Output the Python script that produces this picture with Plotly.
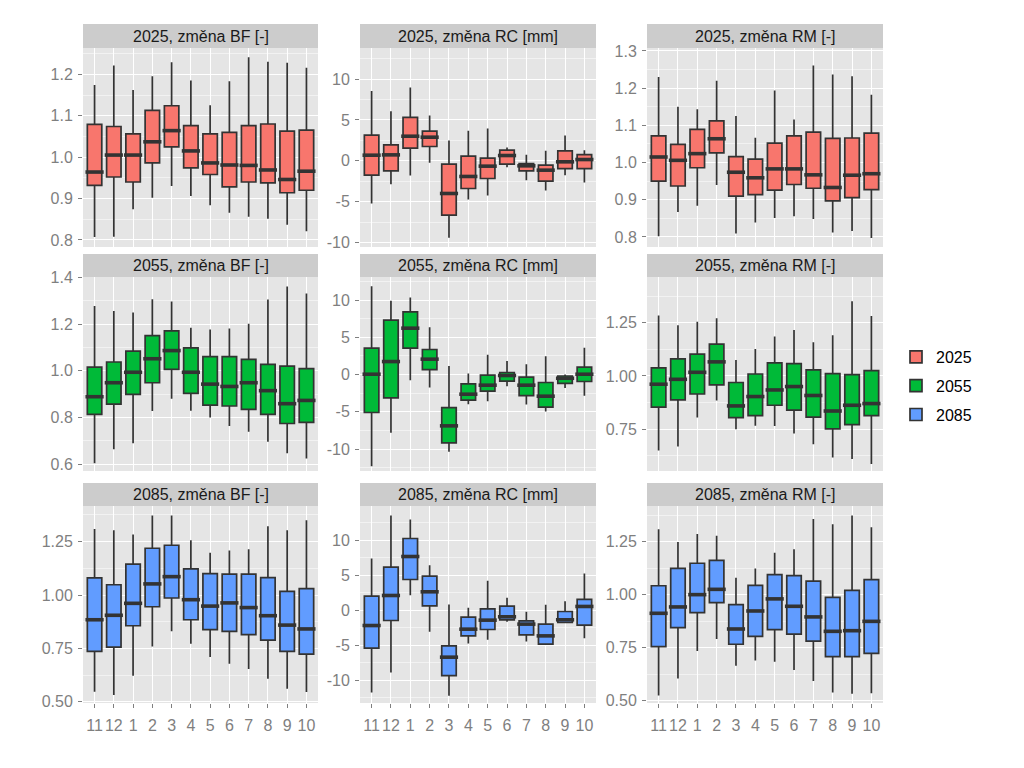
import plotly.graph_objects as go

months = ["11", "12", "1", "2", "3", "4", "5", "6", "7", "8", "9", "10"]
years = ["2025", "2055", "2085"]
variables = ["BF", "RC", "RM"]
strip_titles = {
    ("2025", "BF"): "2025, změna BF [-]", ("2025", "RC"): "2025, změna RC [mm]", ("2025", "RM"): "2025, změna RM [-]",
    ("2055", "BF"): "2055, změna BF [-]", ("2055", "RC"): "2055, změna RC [mm]", ("2055", "RM"): "2055, změna RM [-]",
    ("2085", "BF"): "2085, změna BF [-]", ("2085", "RC"): "2085, změna RC [mm]", ("2085", "RM"): "2085, změna RM [-]",
}
year_colors = {"2025": "#F8766D", "2055": "#00BA38", "2085": "#619CFF"}

# ---- 2025 ----
bf2025_lo = [0.807, 0.808, 0.874, 0.902, 0.930, 0.906, 0.884, 0.866, 0.856, 0.851, 0.837, 0.821]
bf2025_q1 = [0.932, 0.952, 0.940, 0.986, 1.025, 0.974, 0.958, 0.928, 0.940, 0.938, 0.914, 0.920]
bf2025_med = [0.964, 1.005, 1.005, 1.037, 1.064, 1.015, 0.986, 0.981, 0.980, 0.969, 0.946, 0.966]
bf2025_q3 = [1.079, 1.074, 1.056, 1.113, 1.124, 1.076, 1.056, 1.060, 1.076, 1.080, 1.063, 1.065]
bf2025_hi = [1.174, 1.221, 1.162, 1.195, 1.229, 1.185, 1.125, 1.183, 1.241, 1.230, 1.228, 1.216]

rc2025_lo = [-5.21, -2.85, -1.79, -0.24, -9.41, -4.73, -4.24, -0.77, -2.36, -3.63, -1.75, -2.65]
rc2025_q1 = [-1.75, -1.22, 1.55, 1.75, -6.64, -3.38, -2.16, -0.41, -1.22, -2.48, -0.94, -0.94]
rc2025_med = [0.69, 0.73, 3.01, 2.89, -3.99, -1.91, -0.65, 0.65, -0.61, -1.14, -0.12, 0.16]
rc2025_q3 = [3.14, 1.96, 5.30, 3.63, -0.41, 0.57, 0.33, 1.30, -0.33, -0.53, 1.22, 0.77]
rc2025_hi = [8.55, 6.07, 8.96, 5.54, 2.48, 3.67, 3.95, 1.63, 0.73, 1.22, 3.10, 1.30]

rm2025_lo = [0.802, 0.867, 0.884, 0.940, 0.809, 0.839, 0.851, 0.856, 0.848, 0.812, 0.816, 0.797]
rm2025_q1 = [0.950, 0.937, 0.986, 1.026, 0.910, 0.914, 0.926, 0.941, 0.931, 0.897, 0.906, 0.927]
rm2025_med = [1.015, 1.006, 1.024, 1.064, 0.974, 0.959, 0.983, 0.983, 0.967, 0.933, 0.966, 0.970]
rm2025_q3 = [1.072, 1.049, 1.089, 1.112, 1.016, 1.009, 1.052, 1.072, 1.082, 1.065, 1.066, 1.079]
rm2025_hi = [1.230, 1.150, 1.143, 1.220, 1.125, 1.067, 1.194, 1.116, 1.261, 1.237, 1.232, 1.182]

# ---- 2055 ----
bf2055_lo = [0.603, 0.663, 0.689, 0.828, 0.880, 0.829, 0.800, 0.763, 0.739, 0.696, 0.646, 0.624]
bf2055_q1 = [0.813, 0.857, 0.899, 0.949, 1.006, 0.903, 0.853, 0.849, 0.835, 0.813, 0.774, 0.779]
bf2055_med = [0.889, 0.949, 0.994, 1.052, 1.087, 0.994, 0.943, 0.933, 0.949, 0.915, 0.859, 0.873]
bf2055_q3 = [1.016, 1.038, 1.085, 1.151, 1.172, 1.099, 1.061, 1.061, 1.049, 1.028, 1.020, 1.010]
bf2055_hi = [1.278, 1.257, 1.251, 1.307, 1.298, 1.185, 1.178, 1.182, 1.202, 1.306, 1.362, 1.332]

rc2055_lo = [-12.30, -7.83, -0.76, -1.74, -10.38, -3.98, -3.60, -1.57, -4.03, -4.97, -1.80, -2.86]
rc2055_q1 = [-5.10, -3.13, 3.53, 0.67, -9.17, -3.44, -2.24, -0.89, -2.82, -4.38, -1.20, -0.94]
rc2055_med = [0.04, 1.74, 6.22, 2.06, -6.89, -2.64, -1.43, -0.13, -1.43, -2.91, -0.50, 0.04]
rc2055_q3 = [3.53, 7.29, 8.41, 3.36, -4.43, -1.25, -0.09, 0.27, -0.36, -1.07, -0.20, 0.98]
rc2055_hi = [11.86, 9.89, 10.34, 6.35, 1.16, 0.13, 2.64, 1.83, 1.39, 2.46, 0.00, 3.58]

rm2055_lo = [0.649, 0.668, 0.804, 0.884, 0.749, 0.766, 0.765, 0.729, 0.679, 0.616, 0.610, 0.586]
rm2055_q1 = [0.853, 0.887, 0.915, 0.958, 0.804, 0.813, 0.862, 0.839, 0.806, 0.751, 0.771, 0.813]
rm2055_med = [0.961, 0.984, 1.017, 1.066, 0.859, 0.903, 0.934, 0.950, 0.908, 0.835, 0.862, 0.870]
rm2055_q3 = [1.038, 1.080, 1.102, 1.149, 0.969, 1.009, 1.061, 1.058, 1.028, 1.011, 1.006, 1.025]
rm2055_hi = [1.284, 1.238, 1.255, 1.271, 1.075, 1.127, 1.185, 1.216, 1.158, 1.191, 1.351, 1.282]

# ---- 2085 ----
bf2085_lo = [0.547, 0.531, 0.622, 0.759, 0.830, 0.772, 0.709, 0.678, 0.653, 0.608, 0.561, 0.545]
bf2085_q1 = [0.736, 0.756, 0.856, 0.945, 0.986, 0.884, 0.838, 0.830, 0.814, 0.789, 0.736, 0.723]
bf2085_med = [0.884, 0.905, 0.961, 1.052, 1.086, 0.978, 0.948, 0.963, 0.941, 0.903, 0.859, 0.841]
bf2085_q3 = [1.080, 1.048, 1.145, 1.219, 1.233, 1.122, 1.100, 1.098, 1.098, 1.081, 1.017, 1.030]
bf2085_hi = [1.309, 1.303, 1.283, 1.373, 1.373, 1.256, 1.198, 1.208, 1.214, 1.322, 1.303, 1.350]

rc2085_lo = [-11.79, -8.93, 2.15, -3.10, -12.27, -4.77, -4.25, -1.67, -4.49, -4.96, -1.86, -4.01]
rc2085_q1 = [-5.44, -1.48, 4.39, 0.62, -9.36, -3.68, -2.77, -1.38, -3.53, -4.87, -1.77, -2.15]
rc2085_med = [-2.20, 2.10, 7.68, 2.63, -6.73, -2.72, -1.43, -0.95, -2.00, -3.68, -1.38, 0.53]
rc2085_q3 = [2.00, 6.16, 10.26, 4.87, -5.11, -1.00, 0.19, 0.57, -1.53, -2.00, -0.19, 1.53]
rc2085_hi = [7.40, 13.56, 12.98, 6.44, 0.81, 0.33, 4.20, 1.77, -0.24, 0.76, 1.29, 5.25]

rm2085_lo = [0.524, 0.605, 0.734, 0.791, 0.665, 0.690, 0.684, 0.645, 0.593, 0.539, 0.533, 0.535]
rm2085_q1 = [0.755, 0.844, 0.915, 0.962, 0.766, 0.803, 0.835, 0.814, 0.781, 0.708, 0.708, 0.723]
rm2085_med = [0.912, 0.942, 1.000, 1.025, 0.838, 0.923, 0.980, 0.945, 0.895, 0.827, 0.830, 0.874]
rm2085_q3 = [1.042, 1.124, 1.148, 1.162, 0.953, 1.044, 1.094, 1.090, 1.064, 0.987, 1.020, 1.071]
rm2085_hi = [1.308, 1.248, 1.286, 1.278, 1.080, 1.123, 1.198, 1.214, 1.357, 1.332, 1.373, 1.318]

# y-axis ticks per panel
ticks_bf2025 = [0.8, 0.9, 1.0, 1.1, 1.2]
ticks_rc = [-10, -5, 0, 5, 10]
ticks_rm2025 = [0.8, 0.9, 1.0, 1.1, 1.2, 1.3]
ticks_bf2055 = [0.6, 0.8, 1.0, 1.2, 1.4]
ticks_rm2055 = [0.75, 1.00, 1.25]
ticks_2085 = [0.50, 0.75, 1.00, 1.25]

panel_stats = {
    ("2025", "BF"): (bf2025_lo, bf2025_q1, bf2025_med, bf2025_q3, bf2025_hi),
    ("2025", "RC"): (rc2025_lo, rc2025_q1, rc2025_med, rc2025_q3, rc2025_hi),
    ("2025", "RM"): (rm2025_lo, rm2025_q1, rm2025_med, rm2025_q3, rm2025_hi),
    ("2055", "BF"): (bf2055_lo, bf2055_q1, bf2055_med, bf2055_q3, bf2055_hi),
    ("2055", "RC"): (rc2055_lo, rc2055_q1, rc2055_med, rc2055_q3, rc2055_hi),
    ("2055", "RM"): (rm2055_lo, rm2055_q1, rm2055_med, rm2055_q3, rm2055_hi),
    ("2085", "BF"): (bf2085_lo, bf2085_q1, bf2085_med, bf2085_q3, bf2085_hi),
    ("2085", "RC"): (rc2085_lo, rc2085_q1, rc2085_med, rc2085_q3, rc2085_hi),
    ("2085", "RM"): (rm2085_lo, rm2085_q1, rm2085_med, rm2085_q3, rm2085_hi),
}
panel_ticks = {
    ("2025", "BF"): (ticks_bf2025, ["0.8", "0.9", "1.0", "1.1", "1.2"], [0.783, 1.2635]),
    ("2025", "RC"): (ticks_rc, ["-10", "-5", "0", "5", "10"], [-10.53, 13.79]),
    ("2025", "RM"): (ticks_rm2025, ["0.8", "0.9", "1.0", "1.1", "1.2", "1.3"], [0.773, 1.308]),
    ("2055", "BF"): (ticks_bf2055, ["0.6", "0.8", "1.0", "1.2", "1.4"], [0.570, 1.403]),
    ("2055", "RC"): (ticks_rc, ["-10", "-5", "0", "5", "10"], [-12.95, 13.09]),
    ("2055", "RM"): (ticks_rm2055, ["0.75", "1.00", "1.25"], [0.553, 1.465]),
    ("2085", "BF"): (ticks_2085, ["0.50", "0.75", "1.00", "1.25"], [0.494, 1.417]),
    ("2085", "RC"): (ticks_rc, ["-10", "-5", "0", "5", "10"], [-13.29, 14.91]),
    ("2085", "RM"): (ticks_2085, ["0.50", "0.75", "1.00", "1.25"], [0.489, 1.418]),
}

# page pixel positions (window coords); the html body adds an 8px margin
OFF = 8
W, H = 1024 - 2 * OFF, 768 - 2 * OFF
col_px = [(83, 318), (360, 596), (647, 883)]
row_plot_px = [(48, 247), (277, 471), (506, 703)]
row_strip_px = [(24, 48), (254, 277), (483, 506)]


def px_x(v):
    return (v - OFF) / W


def px_y(v):
    return 1 - (v - OFF) / H


PANEL_BG = "#E5E5E5"
STRIP_BG = "#CCCCCC"
AXIS_GREY = "#7F7F7F"
BOX_LINE = "#333333"

fig = go.Figure()
layout = dict(
    width=W, height=H, autosize=False,
    margin=dict(l=0, r=0, t=0, b=0, autoexpand=False),
    paper_bgcolor="white", plot_bgcolor=PANEL_BG,
    font=dict(family="Liberation Sans, Arial, sans-serif", size=16, color="black"),
    boxmode="overlay",
    showlegend=True,
    legend=dict(x=px_x(896), y=px_y(386), xanchor="left", yanchor="middle",
                font=dict(size=16, color="black"), bgcolor="rgba(0,0,0,0)",
                tracegroupgap=5, itemwidth=30),
)
shapes = []
annotations = []

idx = 0
for r, year in enumerate(years):
    for c, var in enumerate(variables):
        idx += 1
        key = (year, var)
        lo, q1, med, q3, hi = panel_stats[key]
        xa = "x" if idx == 1 else f"x{idx}"
        ya = "y" if idx == 1 else f"y{idx}"
        fig.add_trace(go.Box(
            x=months, q1=q1, median=med, q3=q3, lowerfence=lo, upperfence=hi,
            fillcolor=year_colors[year], line=dict(color=BOX_LINE, width=1.7),
            whiskerwidth=0, width=0.75, boxpoints=False,
            name=year, legendgroup=year, showlegend=(c == 0),
            xaxis=xa, yaxis=ya, hoverinfo="skip",
        ))
        fig.add_trace(go.Scatter(
            x=months, y=med, mode="markers",
            marker=dict(symbol="line-ew", size=13, line=dict(width=3.6, color=BOX_LINE)),
            showlegend=False, legendgroup=year, xaxis=xa, yaxis=ya, hoverinfo="skip",
        ))
        x0, x1 = col_px[c]
        py0, py1 = row_plot_px[r]
        sy0, sy1 = row_strip_px[r]
        tv, tt, rng = panel_ticks[key]
        step = tv[1] - tv[0]
        xname = "xaxis" if idx == 1 else f"xaxis{idx}"
        yname = "yaxis" if idx == 1 else f"yaxis{idx}"
        bottom = (r == 2)
        layout[xname] = dict(
            domain=[px_x(x0), px_x(x1)], anchor=ya, type="category",
            categoryorder="array", categoryarray=months, range=[-0.6, 11.6],
            showgrid=True, gridcolor="white", gridwidth=1.3, zeroline=False,
            showline=False, showticklabels=bottom, tickangle=0, automargin=False,
            ticks="outside" if bottom else "", ticklen=4, tickcolor=AXIS_GREY, tickwidth=1.2,
            tickfont=dict(size=16, color=AXIS_GREY), ticklabelstandoff=4, fixedrange=True,
        )
        layout[yname] = dict(
            domain=[px_y(py1), px_y(py0)], anchor=xa, range=rng,
            tickmode="array", tickvals=tv, ticktext=tt, automargin=False,
            showgrid=True, gridcolor="white", gridwidth=1.3, zeroline=False,
            showline=False, ticks="outside", ticklen=4, tickcolor=AXIS_GREY, tickwidth=1.2,
            tickfont=dict(size=16, color=AXIS_GREY), ticklabelstandoff=2,
            minor=dict(dtick=step / 2, tick0=tv[0], showgrid=True, gridcolor="#F2F2F2",
                       gridwidth=0.8, ticks=""),
            fixedrange=True,
        )
        shapes.append(dict(type="rect", xref="paper", yref="paper",
                           x0=px_x(x0), x1=px_x(x1), y0=px_y(sy1), y1=px_y(sy0),
                           fillcolor=STRIP_BG, line=dict(width=0), layer="below"))
        annotations.append(dict(text=strip_titles[key], xref="paper", yref="paper",
                                x=px_x((x0 + x1) / 2), y=px_y((sy0 + sy1) / 2),
                                xanchor="center", yanchor="middle", showarrow=False,
                                font=dict(size=16, color="#1A1A1A")))

layout["shapes"] = shapes
layout["annotations"] = annotations
fig.update_layout(**layout)
fig.write_html("out.html", config={"displayModeBar": False})
